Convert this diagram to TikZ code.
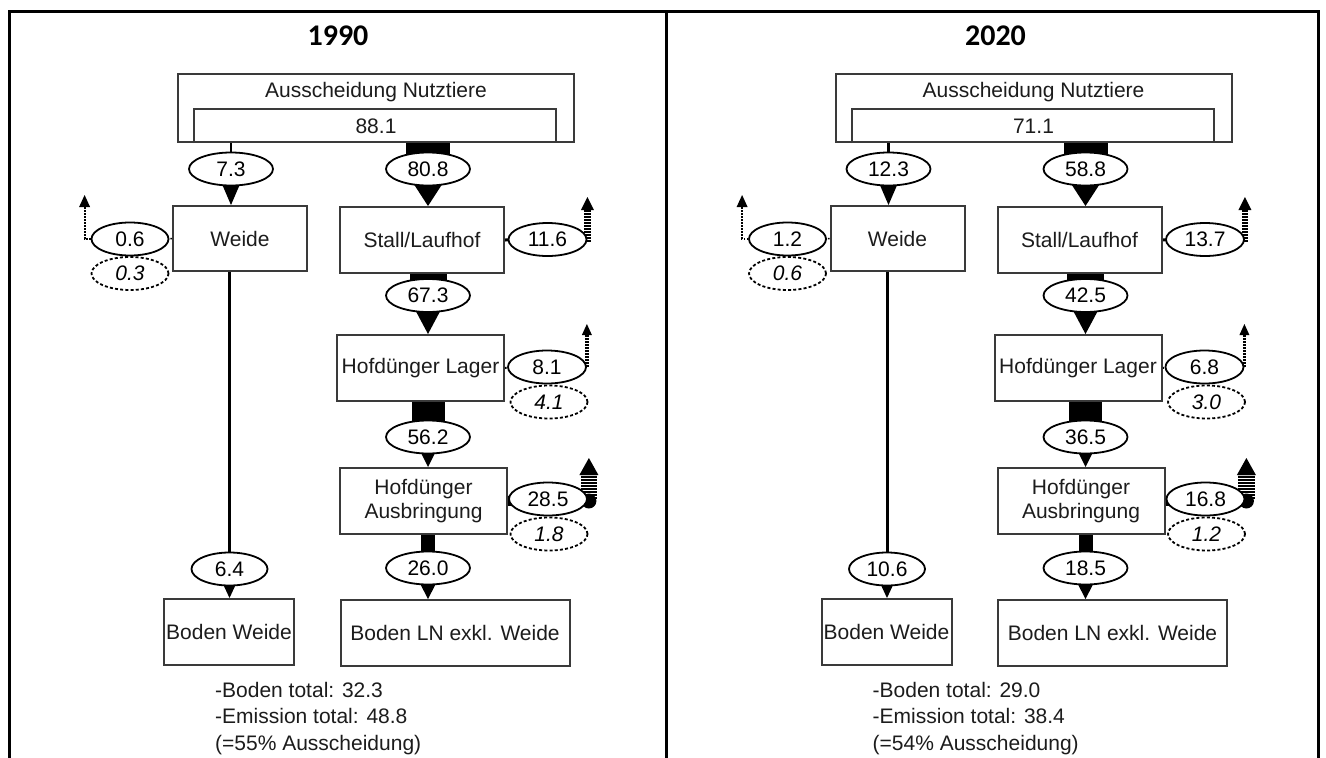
\documentclass[tikz,border=0pt]{standalone}
\usepackage{fontspec}
\setmainfont{Liberation Sans}
\newfontfamily\titlefont{Carlito}
\usetikzlibrary{shapes.geometric,calc}
\definecolor{boxgray}{HTML}{3A3A3A}
\definecolor{txt}{HTML}{1C1C1C}
\pgfdeclarelayer{bg}
\pgfsetlayers{bg,main}
\tikzset{
  lbl/.style={font=\fontsize{21}{24}\selectfont, text=txt, inner sep=0pt},
  box/.style={draw=boxgray, line width=2pt, inner sep=0pt, font=\fontsize{21}{23.5}\selectfont, text=txt, align=center},
  ell/.style={ellipse, draw=black, line width=1.8pt, fill=white, inner sep=0pt, minimum height=33pt, font=\fontsize{21}{24}\selectfont},
  dell/.style={ell, dash pattern=on 3pt off 2.2pt, font=\fontsize{21}{24}\selectfont\itshape},
  stripes/.style={line width=#1, dash pattern=on 1.6pt off 1.4pt},
  titlestyle/.style={font=\titlefont\bfseries\fontsize{30}{34}\selectfont, inner sep=0pt},
  framelines/.style={line width=3pt},
}
% #1 source node, #2 ellipse node, #3 half width
\newcommand\FlowBand[3]{\fill ($(#2 |- #1.south)+(-#3,0)$) rectangle ($(#2.center)+(#3,0)$);}
% #1 ellipse node, #2 target node, #3 base half width
\newcommand\FlowTri[3]{\fill ($(#1.center)+(-#3,0)$) -- ($(#1.center)+(#3,0)$) -- (#1 |- #2.north) -- cycle;}
% #1 start coordinate name, #2 bar width, #3 bar length, #4 tip half width, #5 tip length
\newcommand\EmArrow[5]{%
  \draw[stripes=#2] (#1) -- ++(0,-#3);
  \fill ($(#1)+(-#4,-#3)$) -- ($(#1)+(#4,-#3)$) -- ($(#1)+(0,-#3-#5)$) -- cycle;}
\newcommand\drawpanel[1]{%
  \node[titlestyle] (#1T) at (338,36) {\PVtitle};
  \node[box, minimum width=396pt, minimum height=68pt] (#1A) at (376,108) {};
  \node[lbl] (#1At) at (376,92) {Ausscheidung Nutztiere};
  \node[lbl] (#1Av) at (376,126) {\PVaus};
  \draw[boxgray, line width=2pt] ($(#1A.south west)+(17,0)$) -- ++(0,-34) -- ++(362,0) -- ++(0,34);
  \node[box, minimum width=134pt, minimum height=65pt] (#1W) at (240,238.5) {Weide};
  \node[box, minimum width=164pt, minimum height=66pt] (#1S) at (422,240) {Stall/Laufhof};
  \node[box, minimum width=167pt, minimum height=66pt] (#1L) at (420.5,368) {Hofdünger Lager};
  \node[box, minimum width=167pt, minimum height=66pt] (#1H) at (423.5,501) {Hofdünger\\Ausbringung};
  \node[box, minimum width=130pt, minimum height=66pt] (#1B) at (229,632) {Boden Weide};
  \node[box, minimum width=229pt, minimum height=66pt] (#1N) at (455,633) {Boden LN exkl. Weide};
  \node[ell, minimum width=84pt] (#1e1) at (231,169) {\PVa};
  \node[ell, minimum width=84pt] (#1e2) at (428,169) {\PVb};
  \node[ell, minimum width=77pt] (#1e3) at (130,239) {\PVc};
  \node[dell, minimum width=77pt] (#1d3) at (130,273.5) {\PVcd};
  \node[ell, minimum width=78pt] (#1e4) at (547.5,239.5) {\PVd};
  \node[ell, minimum width=84pt] (#1e5) at (428,295.5) {\PVe};
  \node[ell, minimum width=78pt] (#1e6) at (547,367) {\PVf};
  \node[dell, minimum width=77pt] (#1d6) at (549,402) {\PVfd};
  \node[ell, minimum width=84pt] (#1e7) at (428,437) {\PVg};
  \node[ell, minimum width=78pt] (#1e8) at (548,499) {\PVh};
  \node[dell, minimum width=77pt] (#1d8) at (549,534) {\PVhd};
  \node[ell, minimum width=84pt] (#1e9) at (428,568) {\PVi};
  \node[ell, minimum width=76pt] (#1e10) at (229.5,569) {\PVj};
  \node[lbl, anchor=base west] (#1t1) at (215,697) {-Boden total: \PVta};
  \node[lbl, anchor=base west] (#1t2) at (215,723.5) {-Emission total: \PVtb};
  \node[lbl, anchor=base west] (#1t3) at (215,750) {(=\PVtc\% Ausscheidung)};
  \coordinate (#1s4) at ($(#1e4.east)+(0,2)$);
  \coordinate (#1s6) at ($(#1e6.east)+(0,0)$);
  \coordinate (#1s8) at ($(#1e8.east)+(1,0)$);
  \coordinate (#1s3) at ($(#1e3.west)+(-6,0)$);
  \begin{pgfonlayer}{bg}
    % main flows
    \draw[line width=2.6pt] (#1e1 |- #1A.south) -- (#1e1.center);
    \FlowTri{#1e1}{#1W}{15.5}
    \draw[line width=3pt] (#1e10 |- #1W.south) -- (#1e10.center);
    \FlowTri{#1e10}{#1B}{13.5}
    \FlowBand{#1A}{#1e2}{22}
    \FlowTri{#1e2}{#1S}{24}
    \FlowBand{#1S}{#1e5}{18.5}
    \FlowTri{#1e5}{#1L}{20.5}
    \FlowBand{#1L}{#1e7}{16.5}
    \FlowTri{#1e7}{#1H}{15}
    \FlowBand{#1H}{#1e9}{7}
    \FlowTri{#1e9}{#1N}{16}
    % box to emission ellipses
    \draw[stripes=1.5pt] (#1W.west) -- (#1e3.center);
    \draw[line width=3pt] (#1S.east) -- (#1e4.center);
    \draw[stripes=2pt] (#1L.east) -- (#1e6.center);
    \draw[line width=10pt] (#1H.east) -- (#1e8.center);
    % emission arrows
    \draw[stripes=2pt] (#1e3.west) -- (#1s3) -- ++(0,-32);
    \fill ($(#1s3)+(-5.5,-32)$) -- ($(#1s3)+(5.5,-32)$) -- ($(#1s3)+(0,-44)$) -- cycle;
    \EmArrow{#1s4}{6.5pt}{31.5}{6.5}{13}
    \EmArrow{#1s6}{3.5pt}{32}{5}{11}
    \EmArrow{#1s8}{16.5pt}{24}{9.5}{17}
    \fill ($(#1s8)+(0,2)$) circle[radius=7.5pt];
  \end{pgfonlayer}
}
\begin{document}
\begin{tikzpicture}[x=1pt,y=-1pt]
  \useasboundingbox (0,0) rectangle (1326,758);
  \begin{pgfonlayer}{bg}
    \fill[white] (0,0) rectangle (1326,758);
  \end{pgfonlayer}
  \draw[framelines] (9,758) -- (9,11.5) -- (1318,11.5) -- (1318,758);
  \draw[framelines] (666,11.5) -- (666,758);
  \def\PVtitle{1990}\def\PVaus{88.1}\def\PVa{7.3}\def\PVb{80.8}\def\PVc{0.6}\def\PVcd{0.3}%
  \def\PVd{11.6}\def\PVe{67.3}\def\PVf{8.1}\def\PVfd{4.1}\def\PVg{56.2}\def\PVh{28.5}%
  \def\PVhd{1.8}\def\PVi{26.0}\def\PVj{6.4}\def\PVta{32.3}\def\PVtb{48.8}\def\PVtc{55}%
  \drawpanel{L}
  \begin{scope}[xshift=657.5pt]
  \def\PVtitle{2020}\def\PVaus{71.1}\def\PVa{12.3}\def\PVb{58.8}\def\PVc{1.2}\def\PVcd{0.6}%
  \def\PVd{13.7}\def\PVe{42.5}\def\PVf{6.8}\def\PVfd{3.0}\def\PVg{36.5}\def\PVh{16.8}%
  \def\PVhd{1.2}\def\PVi{18.5}\def\PVj{10.6}\def\PVta{29.0}\def\PVtb{38.4}\def\PVtc{54}%
  \drawpanel{R}
  \end{scope}
\end{tikzpicture}
\end{document}
